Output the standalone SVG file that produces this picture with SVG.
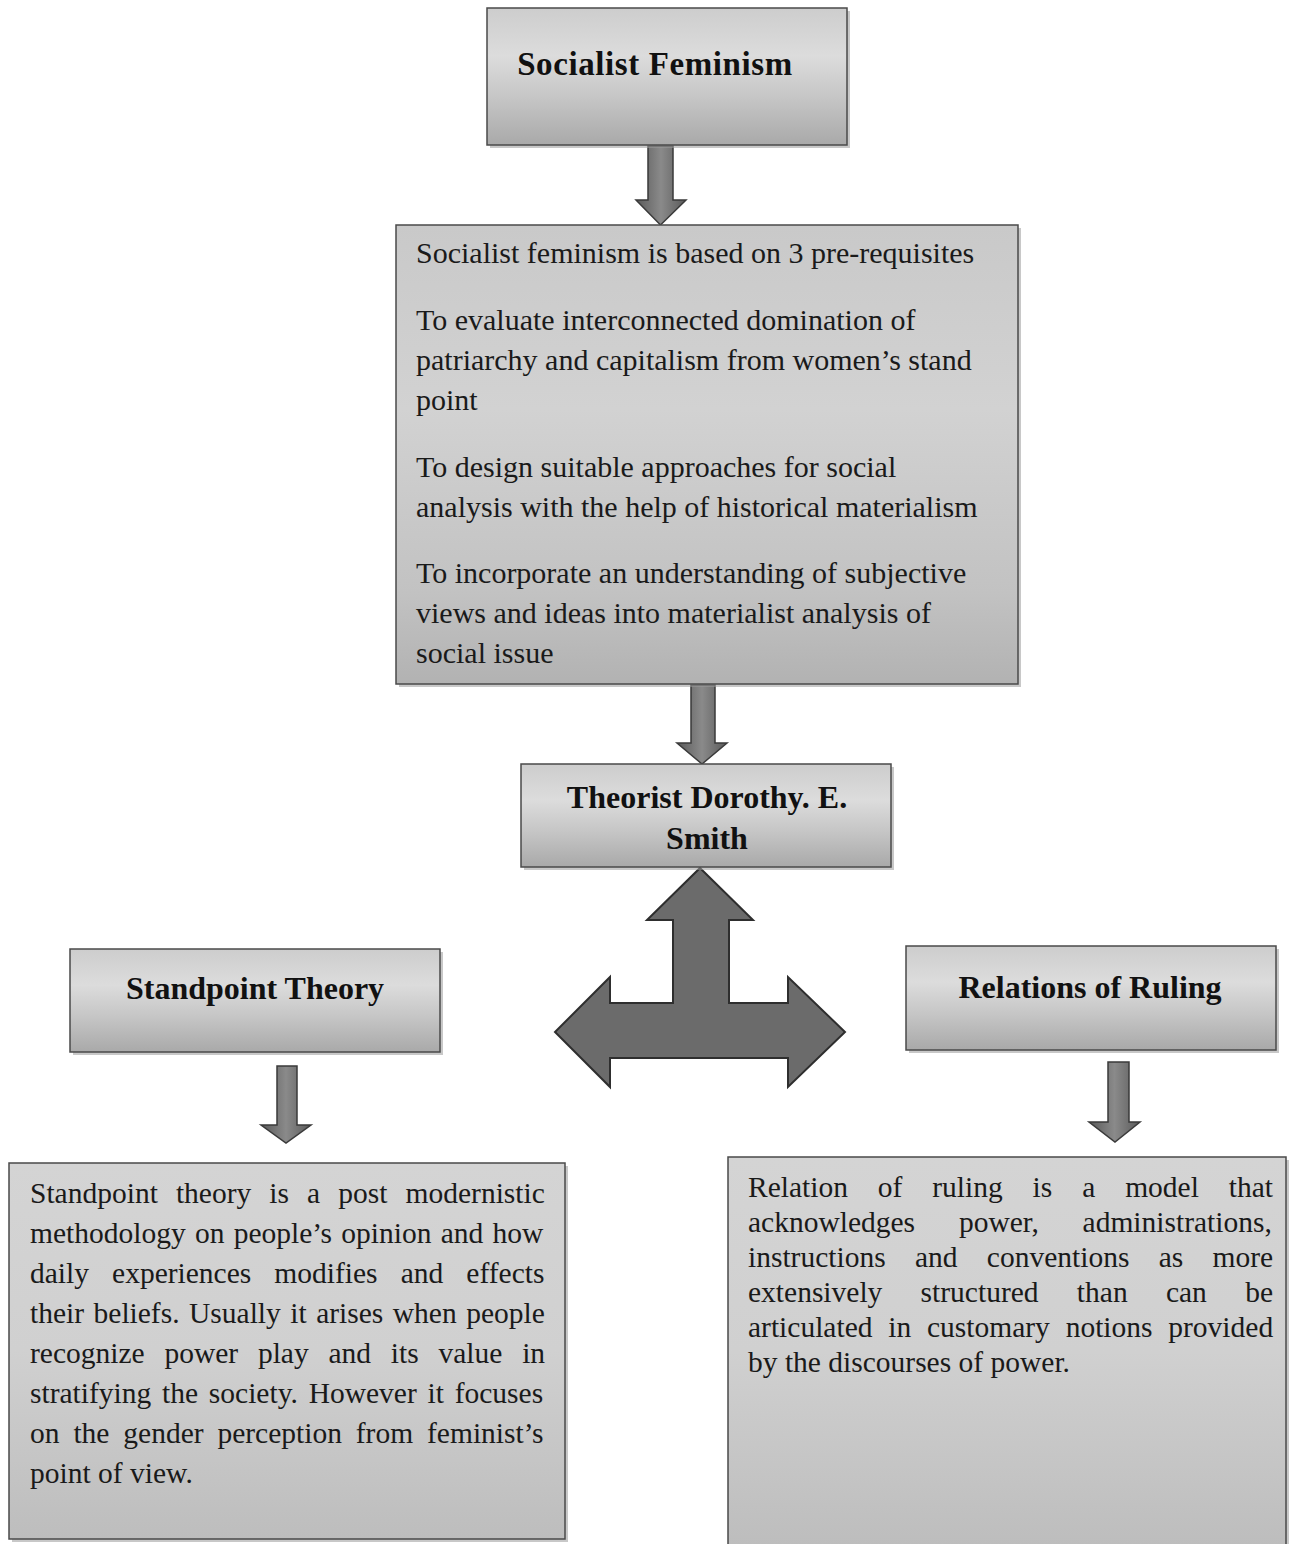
<svg xmlns="http://www.w3.org/2000/svg" width="1299" height="1544" viewBox="0 0 1299 1544">
<style>
.box{stroke:#4a4a4a;stroke-width:1.5}
.shadow{fill:#9a9a9a;opacity:0.55}
.hd{font-family:"Liberation Serif","Times New Roman",serif;font-weight:bold;font-size:32px;fill:#111;text-anchor:middle}
.bd{font-family:"Liberation Serif","Times New Roman",serif;font-size:30px;fill:#1a1a1a}
.bs{font-family:"Liberation Serif","Times New Roman",serif;font-size:29.5px;fill:#1a1a1a}
.arr{fill:url(#arrG);stroke:#3a3a3a;stroke-width:1.5}
.big{fill:#6b6b6b;stroke:#2e2e2e;stroke-width:2}
</style>
<defs>
<linearGradient id="boxG" x1="0" y1="0" x2="0" y2="1">
<stop offset="0" stop-color="#cdcdcd"/>
<stop offset="0.35" stop-color="#dcdcdc"/>
<stop offset="0.65" stop-color="#c6c6c6"/>
<stop offset="1" stop-color="#a9a9a9"/>
</linearGradient>
<linearGradient id="bigBoxG" x1="0" y1="0" x2="0" y2="1">
<stop offset="0" stop-color="#c9c9c9"/>
<stop offset="0.4" stop-color="#d2d2d2"/>
<stop offset="0.8" stop-color="#c2c2c2"/>
<stop offset="1" stop-color="#b2b2b2"/>
</linearGradient>
<linearGradient id="lowBoxG" x1="0" y1="0" x2="0" y2="1">
<stop offset="0" stop-color="#d4d4d4"/>
<stop offset="0.5" stop-color="#d0d0d0"/>
<stop offset="1" stop-color="#bdbdbd"/>
</linearGradient>
<linearGradient id="arrG" x1="0" y1="0" x2="1" y2="0">
<stop offset="0" stop-color="#5a5a5a"/>
<stop offset="0.5" stop-color="#8a8a8a"/>
<stop offset="1" stop-color="#5a5a5a"/>
</linearGradient>
</defs>
<rect width="1299" height="1544" fill="#ffffff"/>

<g id="connectors">
<polygon class="arr" points="648,146 673,146 673,200 686,200 660.5,225 636,200 648,200"/>
<polygon class="arr" points="691,685 715,685 715,743 727,743 702,764 677,743 691,743"/>
<polygon class="big" points="700,868 753,920 729,920 729,1003 788,1003 788,977 845,1032 788,1087 788,1058 610,1058 610,1087 555,1032 610,977 610,1003 673,1003 673,920 647,920"/>
<polygon class="arr" points="277,1066 297,1066 297,1125 311,1125 286,1143 261,1125 277,1125"/>
<polygon class="arr" points="1108,1062 1129,1062 1129,1122 1140,1122 1115,1142 1089,1122 1108,1122"/>
</g>

<g id="socialist-feminism">
<rect class="shadow" x="490" y="11" width="360" height="137"/>
<rect class="box" x="487" y="8" width="360" height="137" fill="url(#boxG)"/>
<text class="hd" x="655" y="75" style="font-size:33px;letter-spacing:0.6px">Socialist Feminism</text>
</g>

<g id="prerequisites">
<rect class="shadow" x="399" y="228" width="622" height="459"/>
<rect class="box" x="396" y="225" width="622" height="459" fill="url(#bigBoxG)"/>
<text class="bd" x="416" y="263">Socialist feminism is based on 3 pre-requisites</text>
<text class="bd" x="416" y="330">To evaluate interconnected domination of</text>
<text class="bd" x="416" y="370">patriarchy and capitalism from women’s stand</text>
<text class="bd" x="416" y="410">point</text>
<text class="bd" x="416" y="477">To design suitable approaches for social</text>
<text class="bd" x="416" y="517">analysis with the help of historical materialism</text>
<text class="bd" x="416" y="583">To incorporate an understanding of subjective</text>
<text class="bd" x="416" y="623">views and ideas into materialist analysis of</text>
<text class="bd" x="416" y="663">social issue</text>
</g>

<g id="theorist">
<rect class="shadow" x="524" y="767" width="370" height="103"/>
<rect class="box" x="521" y="764" width="370" height="103" fill="url(#boxG)"/>
<text class="hd" x="707" y="808">Theorist Dorothy. E.</text>
<text class="hd" x="707" y="849">Smith</text>
</g>

<g id="standpoint-theory">
<rect class="shadow" x="73" y="952" width="370" height="103"/>
<rect class="box" x="70" y="949" width="370" height="103" fill="url(#boxG)"/>
<text class="hd" x="255" y="999">Standpoint Theory</text>
</g>

<g id="relations-of-ruling">
<rect class="shadow" x="909" y="949" width="370" height="104"/>
<rect class="box" x="906" y="946" width="370" height="104" fill="url(#boxG)"/>
<text class="hd" x="1090" y="998">Relations of Ruling</text>
</g>

<g id="standpoint-text">
<rect class="shadow" x="12" y="1166" width="556" height="376"/>
<rect class="box" x="9" y="1163" width="556" height="376" fill="url(#lowBoxG)"/>
<text class="bs" x="30" y="1203" style="word-spacing:10.7px">Standpoint theory is a post modernistic</text>
<text class="bs" x="30" y="1243" style="word-spacing:1.9px">methodology on people’s opinion and how</text>
<text class="bs" x="30" y="1283" style="word-spacing:15.7px">daily experiences modifies and effects</text>
<text class="bs" x="30" y="1323" style="word-spacing:2.1px">their beliefs. Usually it arises when people</text>
<text class="bs" x="30" y="1363" style="word-spacing:12.4px">recognize power play and its value in</text>
<text class="bs" x="30" y="1403" style="word-spacing:3.4px">stratifying the society. However it focuses</text>
<text class="bs" x="30" y="1443" style="word-spacing:6.5px">on the gender perception from feminist’s</text>
<text class="bs" x="30" y="1483">point of view.</text>
</g>

<g id="relations-text">
<rect class="shadow" x="731" y="1160" width="558" height="390"/>
<rect class="box" x="728" y="1157" width="558" height="390" fill="url(#lowBoxG)"/>
<text class="bs" x="748" y="1197" style="word-spacing:22.5px">Relation of ruling is a model that</text>
<text class="bs" x="748" y="1232" style="word-spacing:36.4px">acknowledges power, administrations,</text>
<text class="bs" x="748" y="1267" style="word-spacing:21.9px">instructions and conventions as more</text>
<text class="bs" x="748" y="1302" style="word-spacing:30.9px">extensively structured than can be</text>
<text class="bs" x="748" y="1337" style="word-spacing:8.4px">articulated in customary notions provided</text>
<text class="bs" x="748" y="1372">by the discourses of power.</text>
</g>
</svg>
